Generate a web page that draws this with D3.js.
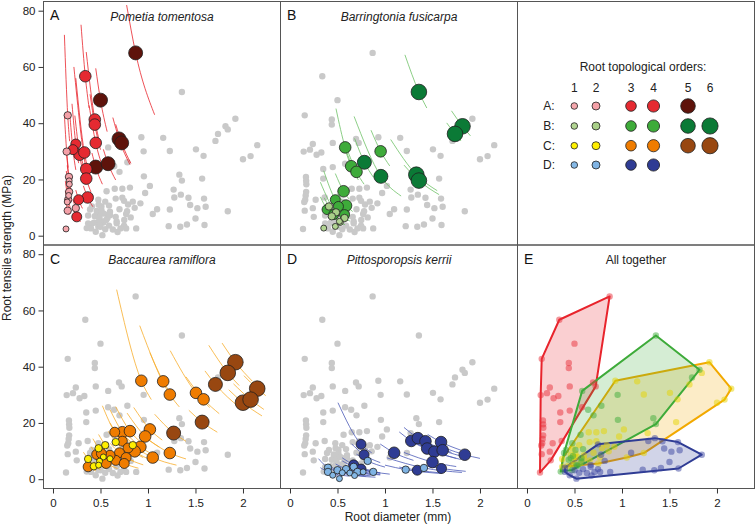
<!DOCTYPE html>
<html><head><meta charset="utf-8">
<script src="https://cdn.jsdelivr.net/npm/d3@7"></script>
<style>body{margin:0;background:#fff}svg{display:block}</style>
</head><body>
<svg id="chart" width="756" height="528"></svg>
<script>
// Each root: [diameter (mm), tensile strength (MPa), topological order,
//             line upper-left end diameter, strength, line lower-right end diameter, strength]
const speciesA = [
  [0.87,65,5,0.775,82,1.07,43],[0.50,48.2,5,0.45,59.5,0.57,37],[0.695,34.4,5,0.63,42,0.81,25.3],
  [0.723,33.0,5,0.66,39.6,0.82,25.7],[0.45,24.4,5,0.41,29.4,0.52,18.3],[0.58,25.6,5,0.53,30.7,0.66,19.8],
  [0.34,56.7,4,0.295,75,0.38,45.4],[0.44,41.3,4,0.35,65.3,0.48,34.7],[0.44,39.5,4,0.39,50.3,0.50,30.6],
  [0.45,33.0,4,0.38,46.3,0.52,24.7],[0.24,32.6,3,0.20,46.9,0.27,25.8],[0.21,30.6,3,0.175,44,0.24,23.4],
  [0.28,28.8,4,0.23,42.7,0.32,22],[0.33,29.6,4,0.24,56,0.38,22.3],[0.35,23.7,4,0.22,60,0.39,19.1],
  [0.35,20.3,4,0.30,27.6,0.40,15.5],[0.365,13.6,4,0.32,17.7,0.42,10.3],[0.27,12.8,3,0.24,16.2,0.31,9.7],
  [0.25,6.7,3,0.22,8.7,0.29,5],
  [0.155,42.8,2,0.12,71.4,0.175,33.6],[0.144,29.9,2,0.12,43,0.16,24.2],[0.168,20.9,2,0.14,30.1,0.185,17.2],
  [0.17,19.5,1,0.15,25,0.19,15.6],[0.172,18.3,1,0.16,21.1,0.185,15.8],[0.17,15.6,2,0.14,23,0.19,12.5],
  [0.165,14.3,1,0.145,18.5,0.18,12],[0.16,12.8,2,0.13,19.4,0.18,10.1],[0.15,12.0,1,0.13,16,0.17,9.3],
  [0.24,9.8,2,0.21,12.8,0.27,7.7],[0.155,8.9,2,0.13,12.7,0.17,7.4],[0.137,2.4,1,0.12,3.1,0.15,2]
];
const speciesB = [
  [1.357,51.1,6,1.21,64.3,1.44,45.4],[1.816,38.9,6,1.70,44.4,1.90,35.5],[1.737,36.2,6,1.65,40.1,1.80,33.7],
  [0.783,26.1,5,0.68,34.6,0.88,20.7],[0.957,21.1,5,0.675,42.4,1.17,14.1],[1.33,21.7,6,1.06,34.2,1.55,16],
  [1.357,19.6,6,1.20,25.1,1.57,14.6],
  [0.581,31.4,4,0.484,45.2,0.64,25.9],[0.954,30.0,4,0.853,37.5,1.05,24.8],[0.644,24.7,4,0.56,32.7,0.72,19.8],
  [0.70,22.7,4,0.61,29.9,0.78,18.3],[0.564,15.8,4,0.477,22.1,0.62,13.1],[0.477,12.8,3,0.355,23.1,0.52,10.8],
  [0.39,9.3,3,0.32,13.8,0.45,7],[0.51,10.4,3,0.44,14,0.56,8.6],[0.59,10.7,4,0.50,14.9,0.66,8.6],
  [0.46,7.5,3,0.40,9.9,0.52,5.9],[0.574,7.5,3,0.50,9.9,0.63,6.2],
  [0.41,10.4,2,0.36,13.5,0.45,8.6],[0.484,8.3,2,0.32,19,0.52,7.2],[0.44,6.9,2,0.40,8.3,0.48,5.8],
  [0.574,6.3,2,0.52,7.7,0.63,5.2],[0.53,4.7,1,0.49,5.5,0.58,3.9],[0.477,3.3,1,0.44,3.9,0.52,2.8],
  [0.355,2.7,1,0.33,3.1,0.38,2.4],[0.52,5.1,1,0.48,6,0.56,4.4]
];
const speciesC = [
  [1.92,41.6,6,1.78,48.4,2.10,34.8],[1.84,37.8,6,1.64,47.6,1.96,33.3],[1.71,33.7,5,1.60,38.5,1.96,25.6],
  [2.15,32.2,6,2.01,36.8,2.24,29.7],[2.00,27.2,6,1.85,31.8,2.20,22.5],[2.08,28.3,6,1.90,33.9,2.22,24.8],
  [1.57,20.3,5,1.43,24.5,1.73,16.7],[1.27,16.4,5,1.07,23.1,1.40,13.5],
  [0.93,35,4,0.67,67.4,1.035,28.3],[1.16,34.8,4,1.02,45,1.25,30],[1.23,30.1,4,0.913,54.6,1.33,25.7],
  [1.505,30.7,4,1.234,45.7,1.65,25.5],[1.585,28.4,4,1.40,36.4,1.75,23.3],[1.02,17.7,4,0.85,25.5,1.15,13.9],
  [0.97,15.2,4,0.78,23.5,1.12,11.4],[0.92,11.5,4,0.80,15.2,1.10,8],[0.86,9.9,4,0.72,14.1,1.05,6.6],
  [1.23,9.3,4,1.00,14.1,1.40,7.2],[1.05,7.7,4,0.90,10.5,1.30,5],[0.65,16.7,3,0.52,26.1,0.76,12.2],
  [0.73,16.7,4,0.60,24.7,0.85,12.3],[0.81,17.1,4,0.66,25.8,0.92,13.3],[0.73,13.5,3,0.60,20,0.85,10],
  [0.79,11.1,3,0.68,15,0.95,7.7],[0.70,9.4,3,0.60,12.8,0.85,6.4],[0.77,7.7,3,0.66,10.5,0.95,5.1],
  [0.66,6.7,3,0.58,8.7,0.80,4.6],[0.75,5.6,3,0.65,7.5,0.90,3.9],[0.60,8.5,3,0.52,11.3,0.72,5.9],
  [0.50,7.9,3,0.44,10.2,0.62,5.1],[0.46,8.8,3,0.40,11.6,0.56,5.9],[0.56,5.6,3,0.50,7,0.68,3.8],
  [0.37,4.4,3,0.33,5.5,0.45,3],[0.51,9.1,3,0.45,11.7,0.60,6.6],
  [0.66,13.2,2,0.58,17.1,0.76,10],[0.55,12.1,2,0.48,15.9,0.64,8.9],[0.84,12.1,2,0.74,15.6,0.95,9.5],
  [0.48,11.0,2,0.42,14.4,0.56,8.1],[0.37,7.2,2,0.32,9.6,0.45,4.9],[0.60,7.3,1,0.54,9,0.68,5.7],
  [0.53,7.9,1,0.47,10.1,0.62,5.8],[0.49,6.4,1,0.43,8.3,0.57,4.7],[0.48,5.0,1,0.43,6.2,0.56,3.7],
  [0.43,4.6,2,0.38,5.9,0.50,3.4]
];
const speciesD = [
  [0.748,12.4,3,0.505,27.2,0.86,9.4],[0.78,8.7,3,0.65,12.5,0.95,5.9],[0.67,5.1,3,0.55,7.6,0.90,2.8],
  [0.748,3.6,3,0.65,4.8,0.95,2.2],[1.096,9.4,4,0.95,12.5,1.30,6.7],[1.277,13.6,4,1.15,16.8,1.45,10.5],
  [1.346,14.6,4,1.20,18.4,1.60,10.3],[1.426,13.5,4,1.30,16.2,1.70,9.5],[1.59,13.2,4,1.45,15.9,1.80,10.3],
  [1.444,10.9,4,1.30,13.4,1.75,7.4],[1.52,9.8,4,1.35,12.4,1.80,7],[1.607,10.3,4,1.45,12.7,1.85,7.8],
  [1.84,8.7,4,1.65,10.8,2.00,7.4],[1.50,6.1,4,1.20,9.5,1.75,4.5],[1.34,3.2,3,1.15,4.3,1.60,2.2],
  [1.595,3.8,3,1.40,4.9,1.85,2.8],
  [0.818,6.5,2,0.70,8.9,1.00,4.3],[0.876,2.6,2,0.75,3.5,1.05,1.8],[1.41,4.0,2,1.02,7.6,1.81,2.4],
  [1.218,3.4,2,1.00,5,1.60,2],[0.40,4.1,2,0.30,7.3,0.70,1.3],[0.40,2.6,2,0.32,4.1,0.62,1.1],
  [0.45,1.4,1,0.40,1.8,0.55,0.9],[0.52,0.2,1,0.50,0.2,0.55,0.2],[0.55,2.3,1,0.45,3.4,0.80,1.1],
  [0.59,3.6,2,0.48,5.4,0.90,1.5],[0.63,2.2,1,0.55,2.9,0.85,1.2],[0.67,4.4,2,0.55,6.5,0.95,2.2],
  [0.68,1.3,1,0.60,1.7,0.90,0.7],[0.71,2.6,2,0.60,3.6,0.95,1.5],[0.77,2.6,1,0.65,3.6,0.95,1.7],
  [0.50,3.2,2,0.42,4.5,0.70,1.6]
];
const speciesNames = ["Pometia tomentosa","Barringtonia fusicarpa","Baccaurea ramiflora","Pittosporopsis kerrii"];
const panelLetters = ["A","B","C","D","E"];
const yTicks = [0,20,40,60,80];
const xTicks = [0,0.5,1,1.5,2];
const xTickLabels = ["0","0.5","1","1.5","2"];
const legendRows = ["A:","B:","C:","D:"];
const legendOrders = [[1,2,3,4,5],[1,2,3,4,5,6],[1,2,3,4,5,6],[1,2,3,4]];
const legendTitle = "Root topological orders:";
const allTitle = "All together";
const xTitle = "Root diameter (mm)";
const yTitle = "Root tensile strength (MPa)";

// ---- styles ----
const FONT = '"Liberation Sans", Arial, Helvetica, sans-serif';
const fills = [
  ["#f5a7ad","#f4a0a7","#e52a31","#e52a31","#5e130b","#5e130b"],
  ["#b2d592","#a9d088","#3eab3a","#3eab3a","#0b7a36","#0b7a36"],
  ["#fff200","#ffee00","#ef7c00","#ef7c00","#984711","#984711"],
  ["#86b9e6","#7fb3e3","#2f3c94","#2f3c94","#2f3c94","#2f3c94"]
];
const lineColors = ["#e8242c","#6fc267","#f7ad2c","#4b5ab7"];
const hullColors = ["#e8242c","#3eab3a","#f2a900","#2f3c94"];
const dotColorsE = ["#e8303a","#3eab3a","#e6d400","#3a44a0"];
const radii = [3,3.7,5,5.8,7,7.8];
const W = 237, H = 243.5;
const cols = [43.5, 280.5, 517.5], rows = [1.5, 245];

const svg = d3.select("#chart").style("font-family", FONT);
const allSpecies = [speciesA, speciesB, speciesC, speciesD];
const xs = c => d3.scaleLinear().domain([-0.1, 2.395]).range([cols[c], cols[c] + W]);
const ys = r => d3.scaleLinear().domain([0, 80]).range([rows[r] + H - 9.3, rows[r] + 9.2]);

// clip paths
const defs = svg.append("defs");
[0,1].forEach(r => [0,1,2].forEach(c => {
  defs.append("clipPath").attr("id", `clip${r}${c}`).append("rect")
    .attr("x", cols[c]).attr("y", rows[r]).attr("width", W).attr("height", H);
}));

const panels = [
  {sp:0, c:0, r:0}, {sp:1, c:1, r:0}, {sp:2, c:0, r:1}, {sp:3, c:1, r:1}
];

panels.forEach(p => {
  const x = xs(p.c), y = ys(p.r);
  const g = svg.append("g").attr("clip-path", `url(#clip${p.r}${p.c})`);
  allSpecies.forEach((sd, i) => {
    if (i === p.sp) return;
    g.append("g").selectAll("circle").data(sd).join("circle")
      .attr("cx", d => x(d[0])).attr("cy", d => y(d[1])).attr("r", 3.2).attr("fill", "#c9c9c9");
  });
  const line = d3.line().x(q => x(q[0])).y(q => y(q[1])).curve(d3.curveMonotoneX);
  g.append("g").selectAll("path").data(allSpecies[p.sp]).join("path")
    .attr("d", d => line([[d[3], d[4]], [d[0], d[1]], [d[5], d[6]]]))
    .attr("fill", "none").attr("stroke", lineColors[p.sp]).attr("stroke-width", 0.8);
  const sorted = allSpecies[p.sp].slice().sort((a, b) => b[2] - a[2]);
  g.append("g").selectAll("circle").data(sorted).join("circle")
    .attr("cx", d => x(d[0])).attr("cy", d => y(d[1])).attr("r", d => radii[d[2] - 1])
    .attr("fill", d => fills[p.sp][d[2] - 1]).attr("stroke", "#1f1f1f").attr("stroke-width", 0.8);
  svg.append("text").attr("x", cols[p.c] + W / 2).attr("y", rows[p.r] + 19)
    .attr("text-anchor", "middle").attr("font-style", "italic").attr("font-size", 12).attr("fill", "#222")
    .text(speciesNames[p.sp]);
});

// Panel E
(() => {
  const x = xs(2), y = ys(1);
  const g = svg.append("g").attr("clip-path", "url(#clip12)");
  const drawOrder = [0, 2, 1, 3];
  drawOrder.forEach(i => {
    const hull = d3.polygonHull(allSpecies[i].map(d => [x(d[0]), y(d[1])]));
    g.append("path").attr("d", "M" + hull.join("L") + "Z")
      .attr("fill", hullColors[i]).attr("fill-opacity", 0.22)
      .attr("stroke", hullColors[i]).attr("stroke-width", 2).attr("stroke-linejoin", "round");
  });
  drawOrder.forEach(i => {
    g.append("g").selectAll("circle").data(allSpecies[i]).join("circle")
      .attr("cx", d => x(d[0])).attr("cy", d => y(d[1])).attr("r", 3.2)
      .attr("fill", dotColorsE[i]).attr("fill-opacity", 0.5);
  });
  svg.append("text").attr("x", cols[2] + W / 2).attr("y", rows[1] + 19)
    .attr("text-anchor", "middle").attr("font-size", 12).attr("fill", "#222").text(allTitle);
})();

// Legend panel
(() => {
  const colX = [574.3, 596, 631, 653.5, 688, 710];
  const rowY = [106, 126, 145.7, 165];
  svg.append("text").attr("x", 643).attr("y", 71).attr("text-anchor", "middle")
    .attr("font-size", 12).attr("fill", "#222").text(legendTitle);
  d3.range(1, 7).forEach((o, i) => svg.append("text").attr("x", colX[i]).attr("y", 91.5)
    .attr("text-anchor", "middle").attr("font-size", 12).attr("fill", "#222").text(o));
  legendRows.forEach((lab, r) => {
    svg.append("text").attr("x", 549).attr("y", rowY[r] + 4.2).attr("text-anchor", "middle")
      .attr("font-size", 12).attr("fill", "#222").text(lab);
    svg.append("g").selectAll("circle").data(legendOrders[r]).join("circle")
      .attr("cx", o => colX[o - 1]).attr("cy", rowY[r]).attr("r", o => radii[o - 1] + 0.3)
      .attr("fill", o => fills[r][o - 1]).attr("stroke", "#1f1f1f").attr("stroke-width", 0.8);
  });
})();

// Panel frames
[0,1].forEach(r => [0,1,2].forEach(c => {
  svg.append("rect").attr("x", cols[c]).attr("y", rows[r]).attr("width", W).attr("height", H)
    .attr("fill", "none").attr("stroke", "#555").attr("stroke-width", 1);
}));

// Panel letters
const letterPos = [[0,0],[1,0],[0,1],[1,1],[2,1]];
letterPos.forEach(([c, r], i) => svg.append("text").attr("x", cols[c] + 6.5).attr("y", rows[r] + 18.5)
  .attr("font-size", 14).attr("fill", "#111").text(panelLetters[i]));

// Axes
function styleAxis(g) {
  g.select(".domain").remove();
  g.selectAll("text").attr("font-size", 11.5).attr("fill", "#222").attr("font-family", FONT);
  g.selectAll("line").attr("stroke", "#333");
}
[0,1].forEach(r => {
  svg.append("g").attr("transform", `translate(${cols[0]},0)`)
    .call(d3.axisLeft(ys(r)).tickValues(yTicks).tickSize(5).tickPadding(3)).call(styleAxis);
});
[0,1,2].forEach(c => {
  svg.append("g").attr("transform", `translate(0,${rows[1] + H})`)
    .call(d3.axisBottom(xs(c)).tickValues(xTicks).tickFormat((d, i) => xTickLabels[i]).tickSize(5).tickPadding(5))
    .call(styleAxis);
});
svg.append("text").attr("x", 398).attr("y", 521).attr("text-anchor", "middle")
  .attr("font-size", 12).attr("fill", "#222").text(xTitle);
svg.append("text").attr("transform", "translate(11,248) rotate(-90)").attr("text-anchor", "middle")
  .attr("font-size", 12).attr("fill", "#222").text(yTitle);
</script>
</body></html>
